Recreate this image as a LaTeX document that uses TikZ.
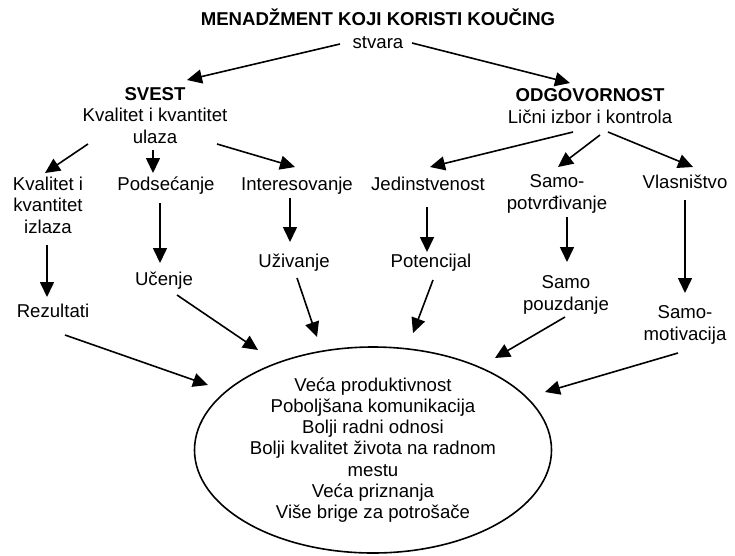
\documentclass[tikz,border=0pt]{standalone}
\usepackage{fontspec}
\setmainfont{Liberation Sans}
\usetikzlibrary{arrows.meta,shapes.geometric,calc}

\tikzset{
  lbl/.style={anchor=base, align=center, inner sep=0pt,
    font=\fontsize{18.6pt}{21.5pt}\selectfont},
  arr/.style={line width=1.6pt, -{Triangle[length=15pt,width=14pt]}},
  outcome/.style={ellipse, draw, line width=1.6pt, inner sep=0pt,
    minimum width=357pt, minimum height=206pt, align=center,
    font=\fontsize{18.6pt}{21.2pt}\selectfont}
}

\begin{document}
\begin{tikzpicture}[x=1pt,y=-1pt]
\fill[white] (0,0) rectangle (735,555);
\useasboundingbox (0,0) rectangle (735,555);

% top level (multi-line labels sit on the baseline of their last line)
\node[lbl] (title)  at (378,25.3) {\textbf{MENADŽMENT KOJI KORISTI KOUČING}};
\node[lbl] (stvara) at (378,48)   {stvara};

% the two branches
\node[lbl] (svest) at (155,143) {\textbf{SVEST}\\Kvalitet i kvantitet\\ulaza};
\node[lbl] (odg)   at (590,123) {\textbf{ODGOVORNOST}\\Lični izbor i kontrola};

% second row
\node[lbl] (kvi)   at (48,233)  {Kvalitet i\\kvantitet\\izlaza};
\node[lbl] (pods)  at (166,190) {Podsećanje};
\node[lbl] (inter) at (297,190) {Interesovanje};
\node[lbl] (jed)   at (428,190) {Jedinstvenost};
\node[lbl] (samop) at (557,209) {Samo-\\potvrđivanje};
\node[lbl] (vlas)  at (685,188) {Vlasništvo};

% third row
\node[lbl] (rez)    at (53,317)  {Rezultati};
\node[lbl] (ucenje) at (164,285) {Učenje};
\node[lbl] (uziv)   at (294,267) {Uživanje};
\node[lbl] (poten)  at (431,267) {Potencijal};
\node[lbl] (pouzd)  at (566,310) {Samo\\pouzdanje};
\node[lbl] (motiv)  at (685,340) {Samo-\\motivacija};

% outcomes
\node[outcome] (ell) at (373,450) {Veća produktivnost\\Poboljšana komunikacija\\Bolji radni odnosi\\Bolji kvalitet života na radnom\\mestu\\Veća priznanja\\Više brige za potrošače};

% connectors
\draw[arr] ($(stvara.base)+(-38,-4)$) -- ($(svest.base)+(32,-63)$);
\draw[arr] ($(stvara.base)+(34,-5)$)  -- ($(odg.base)+(-20,-40)$);

\draw[arr] ($(svest.base)+(-67,1)$) -- ($(kvi.base)+(-3,-60)$);
\draw[arr] ($(svest.base)+(-2,7)$)  -- ($(pods.base)+(-13,-17)$);
\draw[arr] ($(svest.base)+(62,1)$)  -- ($(inter.base)+(-2,-23)$);

\draw[arr] ($(odg.base)+(-17,9)$) -- ($(jed.base)+(2,-23)$);
\draw[arr] ($(odg.base)+(10,12)$) -- ($(samop.base)+(1,-42)$);
\draw[arr] ($(odg.base)+(18,9)$)  -- ($(vlas.base)+(8,-21)$);

\draw[arr] ($(kvi.base)+(-1,12)$)   -- ($(rez.base)+(-6,-20)$);
\draw[arr] ($(pods.base)+(-6,13)$)  -- ($(ucenje.base)+(-4,-22)$);
\draw[arr] ($(inter.base)+(-7,8)$)  -- ($(uziv.base)+(-4,-25)$);
\draw[arr] ($(jed.base)+(-1,17)$)   -- ($(poten.base)+(-4,-15)$);
\draw[arr] ($(samop.base)+(10,8)$)  -- ($(pouzd.base)+(1,-48)$);
\draw[arr] ($(vlas.base)+(0,12)$)   -- ($(motiv.base)+(0,-47)$);

\draw[arr] ($(rez.base)+(12,18)$)    -- ($(ell.center)+(-165,-65)$);
\draw[arr] ($(ucenje.base)+(13,10)$) -- ($(ell.center)+(-115,-100)$);
\draw[arr] ($(uziv.base)+(3,11)$)    -- ($(ell.center)+(-56,-113)$);
\draw[arr] ($(poten.base)+(2,13)$)   -- ($(ell.center)+(40,-117)$);
\draw[arr] ($(pouzd.base)+(-1,7)$)   -- ($(ell.center)+(122,-92)$);
\draw[arr] ($(motiv.base)+(-7,13)$)  -- ($(ell.center)+(172,-58)$);
\end{tikzpicture}
\end{document}
